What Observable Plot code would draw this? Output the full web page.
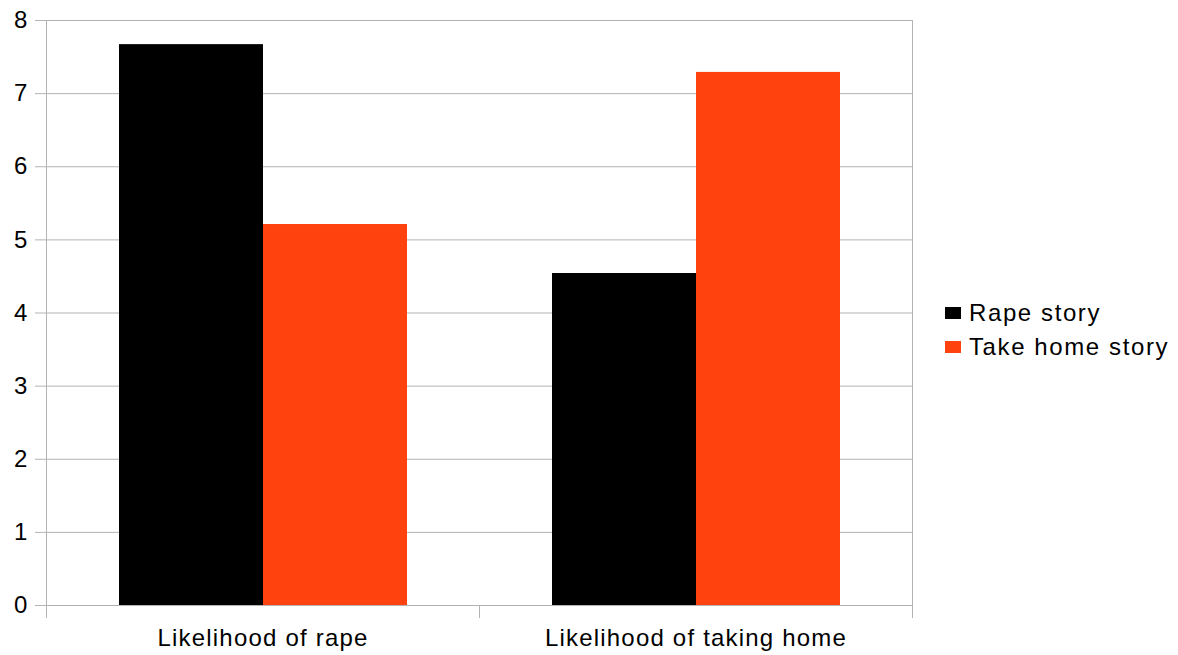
<!DOCTYPE html>
<html>
<head>
<meta charset="utf-8">
<script src="https://cdn.jsdelivr.net/npm/d3@7"></script>
<script src="https://cdn.jsdelivr.net/npm/@observablehq/plot@0.6"></script>
<style>
  html, body { margin: 0; padding: 0; background: #fff; }
  #wrap { position: relative; width: 1178px; height: 655px; font-family: "Liberation Sans", Arial, sans-serif; }
  #chart { position: absolute; left: 0; top: 0; }
  .legend { position: absolute; left: 945px; font-size: 24px; letter-spacing: 1.6px; color: #000; }
  .legend .item { position: absolute; white-space: nowrap; height: 20px; }
  .legend .sw { position: absolute; left: 0; width: 16px; height: 12px; }
  .legend .lab { position: absolute; left: 24px; line-height: 1; }
</style>
</head>
<body>
<div id="wrap">
  <div id="chart"></div>
  <div class="legend" id="legend"></div>
</div>
<script>
const categories = ["Likelihood of rape", "Likelihood of taking home"];
const series = ["Rape story", "Take home story"];
const rapeStory = [7.67, 4.54];
const takeHomeStory = [5.21, 7.29];
const yTicks = [0, 1, 2, 3, 4, 5, 6, 7, 8];
const colors = ["#000000", "#ff420e"];

const data = categories.flatMap((c, i) => [
  {category: c, series: series[0], value: rapeStory[i]},
  {category: c, series: series[1], value: takeHomeStory[i]}
]);

const grid = "#b3b3b3";
const H = 655, MT = 20, MB = 50;
const plotH = H - MT - MB;

const plot = Plot.plot({
  width: 930,
  height: H,
  marginTop: MT,
  marginBottom: MB,
  marginLeft: 46,
  marginRight: 18,
  style: {fontFamily: "Liberation Sans, Arial, sans-serif", fontSize: "24px", letterSpacing: "1.2px", color: "#000", background: "#fff"},
  fx: {domain: categories, padding: 0, label: null},
  x: {domain: series, paddingInner: 0, paddingOuter: 0.5, axis: null},
  y: {domain: [0, 8], label: null},
  color: {domain: series, range: colors},
  marks: [
    Plot.ruleY(yTicks, {stroke: grid, strokeWidth: 1}),
    Plot.frame({facet: "super", anchor: "left", stroke: grid}),
    Plot.frame({facet: "super", anchor: "right", stroke: grid}),
    Plot.frame({anchor: "left", stroke: grid, insetTop: plotH, insetBottom: -12}),
    Plot.frame({anchor: "right", stroke: grid, insetTop: plotH, insetBottom: -12}),
    Plot.barY(data, {fx: "category", x: "series", y: "value", fill: "series", inset: 0}),
    Plot.axisY({ticks: yTicks, tickSize: 11, tickPadding: 7, stroke: grid, fill: "#000", label: null, tickFormat: d => String(d)}),
    Plot.axisFx({anchor: "bottom", tickSize: 0, tickPadding: 23, label: null, fill: "#000"})
  ]
});
document.getElementById("chart").appendChild(plot);

const legend = document.getElementById("legend");
series.forEach((s, i) => {
  const item = document.createElement("div");
  item.className = "item";
  item.style.top = (306 + i * 34) + "px";
  const sw = document.createElement("div");
  sw.className = "sw";
  sw.style.background = colors[i];
  sw.style.top = "1px";
  const lab = document.createElement("div");
  lab.className = "lab";
  lab.style.top = "-5px";
  lab.textContent = s;
  item.appendChild(sw);
  item.appendChild(lab);
  legend.appendChild(item);
});
legend.style.top = "0px";
</script>
</body>
</html>
